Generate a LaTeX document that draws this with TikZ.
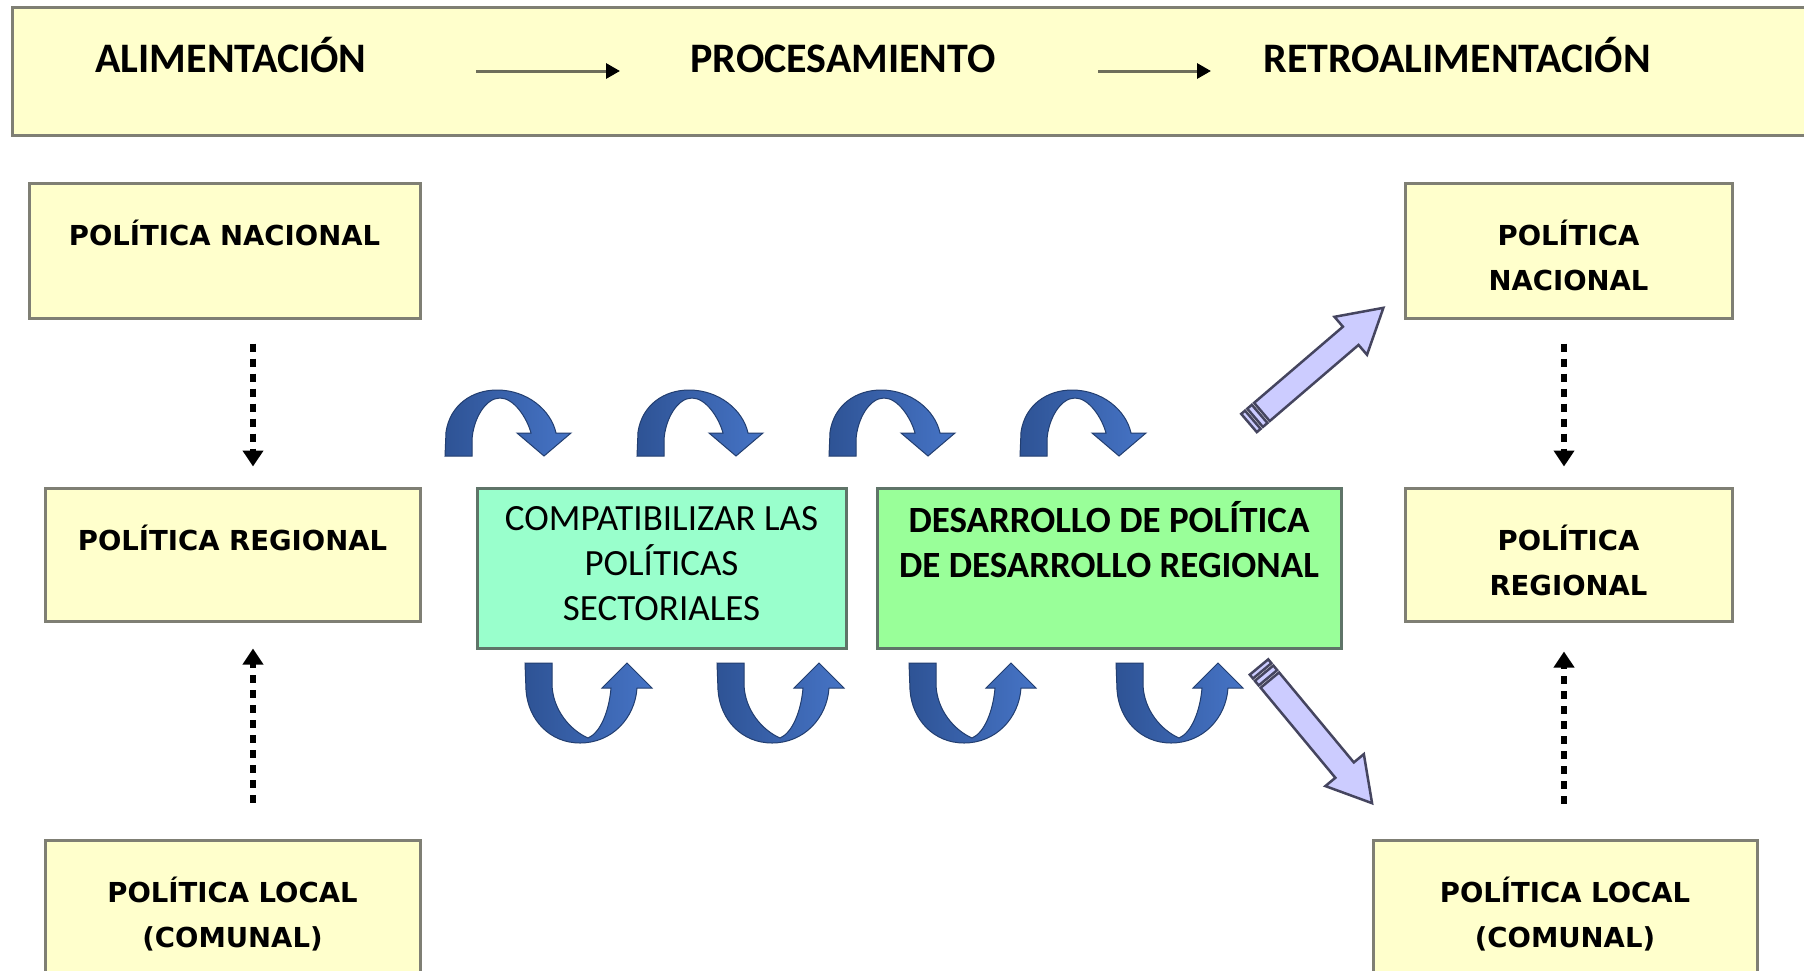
\documentclass[tikz,border=0pt]{standalone}
\usepackage{fontspec}
\usepackage{tikz}
\usetikzlibrary{arrows.meta,positioning}
\newfontfamily\verdfont{DejaVu Sans}
\newfontfamily\califont{Carlito}
\definecolor{paleyellow}{HTML}{FFFFCC}
\definecolor{framegray}{HTML}{7F7F74}
\definecolor{barline}{HTML}{6E6E5A}
\definecolor{compatfill}{HTML}{99FFCC}
\definecolor{devfill}{HTML}{99FF99}
\definecolor{midframe}{HTML}{5F7468}
\definecolor{arcdark}{HTML}{2E5395}
\definecolor{arclight}{HTML}{4674C6}
\definecolor{blockfill}{HTML}{CCCCFF}
\definecolor{blockline}{HTML}{45455F}
\tikzset{
% Header bar and its labels
bar frame/.style={draw=framegray,line width=3pt,fill=paleyellow},
bar text/.style={anchor=base,inner sep=0pt,font=\califont\bfseries\fontsize{42}{50}\selectfont},
bar arrow/.style={draw=barline,line width=3pt,-{Triangle[width=15pt,length=14pt,black]}},
% Yellow policy boxes and their text
policy node/.style={draw=framegray,line width=3pt,fill=paleyellow},
policy text/.style={align=center,inner sep=0pt,execute at begin node=\strut,
  font=\verdfont\bfseries\fontsize{27.5}{45}\selectfont},
dotted link/.style={line width=5.5pt,dash pattern=on 8pt off 7pt,-{Triangle[width=20pt,length=16pt]}},
% Processing boxes
mid node/.style={draw=midframe,line width=3pt},
mid text/.style={align=center,inner sep=0pt,execute at begin node=\strut,
  font=\califont\fontsize{37}{45}\selectfont},
% Curved and block arrows
curved arrow/.style={left color=arcdark,right color=arclight,draw=arcdark!75!black,line width=1pt},
block arrow/.style={fill=blockfill,draw=blockline,line width=2.5pt,line join=miter}
}

\begin{document}
\begin{tikzpicture}[x=1pt,y=-1pt]
  \path[use as bounding box,fill=white] (0,0) rectangle (1804,970);
  % Header bar
  \draw[bar frame] (12,7) rectangle (1830,135);
  \node (alim) [bar text] at (231,72) {ALIMENTACIÓN};
  \node (proc) [bar text] at (843,72) {PROCESAMIENTO};
  \node (retro) [bar text] at (1457,72) {RETROALIMENTACIÓN};
  \coordinate (a1s) at (476,71);
  \coordinate (a1e) at (620,71);
  \coordinate (a2s) at (1098,71);
  \coordinate (a2e) at (1211,71);
  \draw[bar arrow] (a1s) -- (a1e);
  \draw[bar arrow] (a2s) -- (a2e);
  % Left column
  \node (pnl) [policy node,minimum width=391pt,minimum height=135pt] at (224.5,250.5) {};
  \node (prl) [policy node,minimum width=375pt,minimum height=133pt] at (232.5,554.5) {};
  \node (pll) [policy node,minimum width=375pt,minimum height=140pt] at (232.5,910) {};
  \node (pnlt) [policy text,below=32.5pt of pnl.north] {POLÍTICA NACIONAL};
  \node (prlt) [policy text,below=32.5pt of prl.north] {POLÍTICA REGIONAL};
  \node (pllt) [policy text,below=38pt of pll.north] {POLÍTICA LOCAL\\(COMUNAL)};
  \coordinate (lx) at (253,0);
  \draw[dotted link,shorten <=24pt,shorten >=20pt] (pnl.south -| lx) -- (prl.north -| lx);
  \draw[dotted link,shorten <=36pt,shorten >=26pt] (pll.north -| lx) -- (prl.south -| lx);
  % Right column
  \node (pnr) [policy node,minimum width=327pt,minimum height=135pt] at (1568.5,250.5) {};
  \node (prr) [policy node,minimum width=327pt,minimum height=133pt] at (1568.5,554.5) {};
  \node (plr) [policy node,minimum width=384pt,minimum height=140pt] at (1565,910) {};
  \node (pnrt) [policy text,below=38pt of pnr.north] {POLÍTICA\\NACIONAL};
  \node (prrt) [policy text,below=38pt of prr.north] {POLÍTICA\\REGIONAL};
  \node (plrt) [policy text,below=38pt of plr.north] {POLÍTICA LOCAL\\(COMUNAL)};
  \coordinate (rx) at (1564,0);
  \draw[dotted link,shorten <=24pt,shorten >=20pt] (pnr.south -| rx) -- (prr.north -| rx);
  \draw[dotted link,shorten <=35pt,shorten >=29pt] (plr.north -| rx) -- (prr.south -| rx);
  % Processing boxes
  \node (compat) [mid node,fill=compatfill,minimum width=369pt,minimum height=160pt] at (661.5,568) {};
  \node (desar) [mid node,fill=devfill,minimum width=464pt,minimum height=160pt] at (1109,568) {};
  \node (compatt) [mid text,below=20pt of compat.north] {COMPATIBILIZAR LAS\\POLÍTICAS\\SECTORIALES};
  \node (desart) [mid text,font=\califont\bfseries\fontsize{37}{45}\selectfont,below=15pt of desar.north]
    {DESARROLLO DE POLÍTICA\\DE DESARROLLO REGIONAL};
  % Curved arrows above the boxes
  \foreach \dx in {0,192,384,575}
    \shadedraw[curved arrow,xshift=\dx] (445,456) -- (446,432)
      .. controls (450,405) and (472,390) .. (497,390)
      .. controls (527,390) and (551,410) .. (556,433) -- (571,433) -- (544,456) -- (517,433) -- (531,433)
      .. controls (527,418) and (514,398) .. (500,398)
      .. controls (485,398) and (473,420) .. (472,440) -- (472,456) -- cycle;
  % Curved arrows below the boxes
  \foreach \dx in {0,192,384,591}
    \shadedraw[curved arrow,xshift=\dx] (525,663) -- (526,690)
      .. controls (528,720) and (550,743) .. (580,743)
      .. controls (612,743) and (635,718) .. (637,688) -- (652,688) -- (627,663) -- (602,688) -- (611,688)
      .. controls (609,712) and (600,733) .. (588,738)
      .. controls (570,730) and (553,710) .. (552,685) -- (552,663) -- cycle;
  % Block arrows towards the feedback boxes
  \begin{scope}[shift={(1249,423)},rotate=40.6]
    \filldraw[block arrow] (17,-12) -- (134,-12) -- (134,-25) -- (177,0) -- (134,25) -- (134,12) -- (17,12) -- cycle;
    \filldraw[block arrow] (0,-12) rectangle (5,12);
    \filldraw[block arrow] (8,-12) rectangle (14,12);
  \end{scope}
  \begin{scope}[shift={(1259,667)},rotate=-50.3]
    \filldraw[block arrow] (17,-12) -- (134,-12) -- (134,-25) -- (177,0) -- (134,25) -- (134,12) -- (17,12) -- cycle;
    \filldraw[block arrow] (0,-12) rectangle (5,12);
    \filldraw[block arrow] (8,-12) rectangle (14,12);
  \end{scope}
\end{tikzpicture}
\end{document}
